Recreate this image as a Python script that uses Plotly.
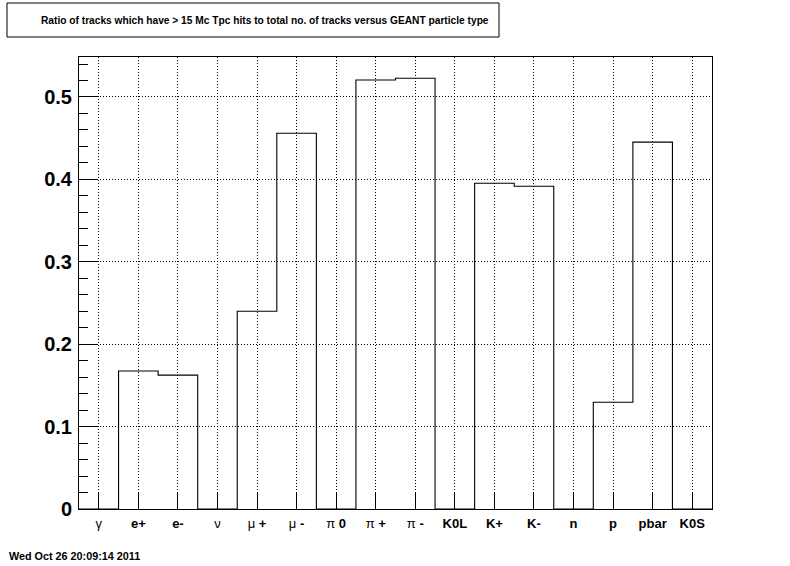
import plotly.graph_objects as go

categories = ["γ", "e+", "e-", "ν", "μ +", "μ -", "π 0", "π +", "π -",
              "K0L", "K+", "K-", "n", "p", "pbar", "K0S"]
tick_text = ["γ", "<b>e+</b>", "<b>e-</b>", "ν", "μ <b>+</b>", "μ <b>-</b>",
             "π <b>0</b>", "π <b>+</b>", "π <b>-</b>", "<b>K0L</b>", "<b>K+</b>",
             "<b>K-</b>", "<b>n</b>", "<b>p</b>", "<b>pbar</b>", "<b>K0S</b>"]
ratios = [0.0, 0.1675, 0.1625, 0.0, 0.240, 0.456, 0.0, 0.5205, 0.5228,
          0.0, 0.3953, 0.3916, 0.0, 0.1296, 0.4452, 0.0]
y_max = 0.5485

title_text = "Ratio of tracks which have > 15 Mc Tpc hits to total no. of tracks versus GEANT particle type"
date_text = "Wed Oct 26 20:09:14 2011"

n = len(categories)
edges = list(range(n + 1))
step_y = ratios + [ratios[-1]]
centers = [i + 0.5 for i in range(n)]

W, H = 790, 566
L, R, T, B = 79, 712, 57, 509


def px(x):
    return (x - L) / (R - L)


def py(y):
    return (B - y) / (B - T)


fig = go.Figure()
fig.add_trace(go.Scatter(
    x=edges, y=step_y, mode="lines", line=dict(shape="hv", color="black", width=1.1),
    hoverinfo="skip", showlegend=False))

fig.update_layout(
    width=W, height=H,
    margin=dict(l=L, r=W - R, t=T, b=H - B),
    paper_bgcolor="white", plot_bgcolor="white",
    font=dict(family="Liberation Sans, Arial, sans-serif", color="black"),
    showlegend=False,
)

fig.update_xaxes(
    range=[0, n], tickmode="array", tickvals=centers, ticktext=tick_text,
    ticks="inside", ticklen=16, tickwidth=1, tickcolor="black",
    showline=True, linecolor="black", linewidth=1, mirror=True,
    showgrid=True, gridcolor="black", gridwidth=1, griddash="1px,2px",
    tickfont=dict(size=13, family="Liberation Sans, Arial, sans-serif"),
    zeroline=False, fixedrange=True, ticklabelstandoff=2,
)
fig.update_yaxes(
    range=[0, y_max], tickmode="linear", tick0=0, dtick=0.1,
    tickformat=".1~f",
    ticks="inside", ticklen=18, tickwidth=1, tickcolor="black",
    minor=dict(ticks="inside", ticklen=9, dtick=0.02, tickcolor="black", showgrid=False),
    showline=True, linecolor="black", linewidth=1, mirror=True,
    showgrid=True, gridcolor="black", gridwidth=1, griddash="1px,2px",
    tickfont=dict(size=20, family="Liberation Sans, Arial, sans-serif", weight="bold"),
    zeroline=False, fixedrange=True, ticklabelstandoff=2,
)

# title box
fig.add_shape(type="rect", xref="paper", yref="paper",
              x0=px(7), x1=px(499), y0=py(37), y1=py(3),
              line=dict(color="black", width=1), fillcolor="white", layer="above")
fig.add_annotation(text="<b>" + title_text + "</b>", xref="paper", yref="paper",
                   x=px(491), y=py(20), xanchor="right", yanchor="middle",
                   showarrow=False, font=dict(size=10.2, color="black"))
fig.add_annotation(text="<b>" + date_text + "</b>", xref="paper", yref="paper",
                   x=px(7), y=py(556), xanchor="left", yanchor="middle",
                   showarrow=False, font=dict(size=10.8, color="black"))

fig.write_html("out.html", config={"displayModeBar": False},
               post_script="document.body.style.margin='0px';document.body.style.padding='0px';")
